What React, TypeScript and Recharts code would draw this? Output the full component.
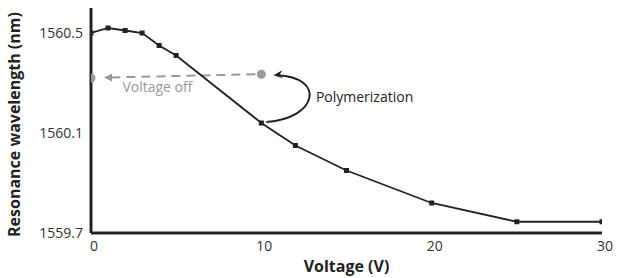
import React from "react";
import {
  ComposedChart,
  Line,
  Scatter,
  XAxis,
  YAxis,
  ReferenceLine,
  ReferenceDot,
  Label,
} from "recharts";

// measured resonance vs applied voltage
const voltage = [0, 1, 2, 3, 4, 5, 10, 12, 15, 20, 25, 30];
const wavelength = [
  1560.5, 1560.52, 1560.51, 1560.5, 1560.45, 1560.41, 1560.14, 1560.05,
  1559.95, 1559.82, 1559.745, 1559.745,
];

// state after polymerization: at 10 V, then voltage switched off
const offVoltage = [10, 0];
const offWavelength = [1560.335, 1560.32];

const xTicks = [0, 10, 20, 30];
const yTicks = [1559.7, 1560.1, 1560.5];

const mainData = voltage.map((v, i) => ({ v, w: wavelength[i] }));
const offData = offVoltage.map((v, i) => ({ v, w: offWavelength[i] }));

const FONT = "'Open Sans', sans-serif";

const SquareDot = (props: any) => {
  const { cx, cy } = props;
  if (cx == null || cy == null) return null;
  return <rect x={cx - 2.5} y={cy - 2.5} width={5} height={5} fill="#222" />;
};

// dashed grey arrow from the 10 V point back to the 0 V axis
const DashedArrow = (props: any) => {
  const { x1, y1, x2, y2 } = props;
  const tipX = x2 + 13;
  const tipY = y2 - 0.5;
  return (
    <g>
      <line
        x1={x1 - 6}
        y1={y1}
        x2={tipX + 5}
        y2={tipY}
        stroke="#999"
        strokeWidth={2}
        strokeDasharray="9 6"
      />
      <path
        d={`M${tipX + 8},${tipY - 4} L${tipX},${tipY} L${tipX + 8},${tipY + 4} Z`}
        fill="#999"
      />
    </g>
  );
};

// curved black arrow from the polymerized point up to the voltage-off point
const CurvedArrow = (props: any) => {
  const { x1, y1, x2, y2 } = props;
  const sx = x1 + 5;
  const sy = y1 - 1;
  const ex = x2 + 12;
  const ey = y2 + 1;
  const d = 52;
  return (
    <g>
      <path
        d={`M${sx},${sy} C${sx + d},${sy - 4} ${ex + d},${ey + 2} ${ex + 4},${ey}`}
        fill="none"
        stroke="#222"
        strokeWidth={2}
      />
      <path
        d={`M${ex + 9},${ey - 5} L${ex},${ey} L${ex + 10},${ey + 3} L${ex + 6},${ey} Z`}
        fill="#222"
      />
    </g>
  );
};

export default function App() {
  return (
    <div style={{ position: "absolute", left: 0, top: 0, width: 622, height: 278, background: "#fff" }}>
      <ComposedChart
        width={622}
        height={278}
        margin={{ top: 8, right: 20, left: 0, bottom: 0 }}
        style={{ fontFamily: FONT }}
      >
        <XAxis
          dataKey="v"
          type="number"
          domain={[0, 30]}
          ticks={xTicks}
          allowDataOverflow
          height={45}
          tickLine={false}
          axisLine={{ stroke: "#222", strokeWidth: 3 }}
          tick={{ fill: "#333", fontSize: 14, dx: 3 }}
        >
          <Label
            value="Voltage (V)"
            position="insideBottom"
            offset={6}
            style={{ fill: "#222", fontSize: 16, fontWeight: 700, fontFamily: FONT }}
          />
        </XAxis>
        <YAxis
          type="number"
          domain={[1559.7, 1560.6]}
          ticks={yTicks}
          allowDataOverflow
          width={91}
          tickLine={false}
          axisLine={{ stroke: "#222", strokeWidth: 3 }}
          tick={{ fill: "#333", fontSize: 14 }}
          tickFormatter={(t: number) => t.toFixed(1)}
        >
          <Label
            value="Resonance wavelength (nm)"
            angle={-90}
            position="insideLeft"
            offset={14}
            dy={4}
            style={{ textAnchor: "middle", fill: "#222", fontSize: 16, fontWeight: 700, fontFamily: FONT }}
          />
        </YAxis>
        <ReferenceLine
          segment={[
            { x: offVoltage[0], y: offWavelength[0] },
            { x: offVoltage[1], y: offWavelength[1] },
          ]}
          shape={DashedArrow}
        />
        <ReferenceLine
          segment={[
            { x: 10, y: 1560.14 },
            { x: offVoltage[0], y: offWavelength[0] },
          ]}
          shape={CurvedArrow}
        />
        <Line
          data={mainData}
          dataKey="w"
          stroke="#222"
          strokeWidth={1.8}
          dot={<SquareDot />}
          activeDot={false}
          isAnimationActive={false}
        />
        <Scatter data={offData} dataKey="w" fill="#999" shape="circle" isAnimationActive={false} />
        <ReferenceDot x={3.9} y={1560.283} r={0} ifOverflow="visible">
          <Label value="Voltage off" position="center" style={{ fill: "#999", fontSize: 14, fontFamily: FONT }} />
        </ReferenceDot>
        <ReferenceDot x={16.06} y={1560.243} r={0} ifOverflow="visible">
          <Label value="Polymerization" position="center" style={{ fill: "#222", fontSize: 14, fontFamily: FONT }} />
        </ReferenceDot>
      </ComposedChart>
    </div>
  );
}
